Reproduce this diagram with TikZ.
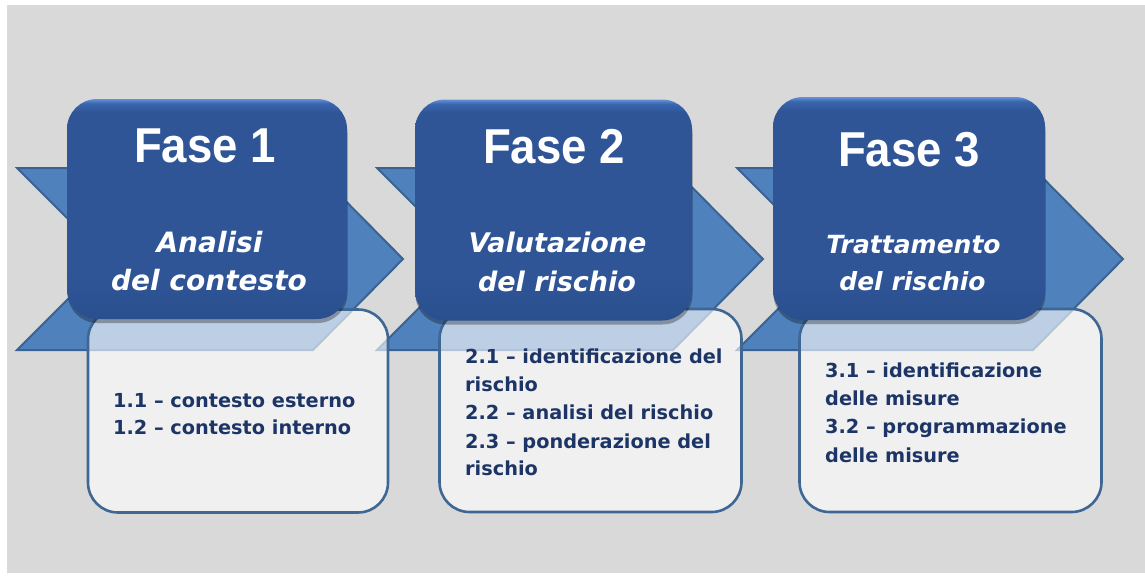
\documentclass[tikz,border=0pt]{standalone}
\usepackage{fontspec}
\setmainfont{DejaVu Sans}
\newfontfamily\titlefont{Liberation Sans}
\usetikzlibrary{shadows}

\definecolor{bg}{HTML}{D9D9D9}
\definecolor{chev}{HTML}{4F81BD}
\definecolor{chevline}{HTML}{3A6392}
\definecolor{dbox}{HTML}{2F5597}
\definecolor{dbot}{HTML}{2B4F8E}
\definecolor{dboxtop}{HTML}{6690D8}
\definecolor{dboxmid}{HTML}{3A66AE}
\definecolor{lline}{HTML}{3F6794}
\definecolor{ltext}{HTML}{1C3566}

\pgfdeclareverticalshading{darkshade}{100bp}{color(0bp)=(dbot);color(25bp)=(dbot);color(35bp)=(dbox);color(72bp)=(dbox);color(74bp)=(dboxmid);color(75bp)=(dboxtop);color(100bp)=(dboxtop)}

\newcommand{\tsq}[1]{\scalebox{0.93}[1]{#1}}

\tikzset{
  chevron/.style={fill=chev, draw=chevline, line width=2pt, line join=miter},
  lowbox/.style={rectangle, rounded corners=30pt, draw=lline, line width=2.6pt,
    fill=white, fill opacity=0.62, inner sep=0pt},
  darkbox/.style={rectangle, rounded corners=30pt, shading=darkshade, shade, draw=none, inner sep=0pt,
    drop shadow={shadow xshift=0.5pt, shadow yshift=-4pt, opacity=0.3, fill=black}},
  titletxt/.style={text=white, font=\titlefont\bfseries\fontsize{49}{49}\selectfont, anchor=base, inner sep=0pt},
  subtxt/.style={text=white, font=\bfseries\itshape\fontsize{#1}{#1}\selectfont, anchor=base, inner sep=0pt},
  itemtxt/.style={text=ltext, font=\bfseries\fontsize{19.3}{19.3}\selectfont, anchor=base west, inner sep=0pt},
}

\begin{document}
\begin{tikzpicture}[x=1pt, y=-1pt]
\useasboundingbox (0,0) rectangle (1145,576);
\fill[white] (0,0) rectangle (1145,576);
\fill[bg] (7,5) rectangle (1145,573);

% chevrons
\foreach \L in {17,377,737}
  \draw[chevron] (\L,168) -- ++(296,0) -- ++(90,91) -- ++(-90,91) -- ++(-296,0) -- ++(91,-91) -- cycle;

% lower boxes
\node[lowbox, minimum width=300pt, minimum height=203pt] (l1) at (238,411) {};
\node[lowbox, minimum width=302pt, minimum height=203pt] (l2) at (590.5,410.5) {};
\node[lowbox, minimum width=302pt, minimum height=203pt] (l3) at (950.5,410.5) {};

% dark boxes
\node[darkbox, minimum width=280pt, minimum height=220pt] (d1) at (207,209) {};
\node[darkbox, minimum width=277pt, minimum height=221pt] (d2) at (553.5,210) {};
\node[darkbox, minimum width=272pt, minimum height=223pt] (d3) at (909,208.5) {};

% titles
\node[titletxt] (t1) at (205,162) {\tsq{Fase 1}};
\node[titletxt] (t2) at (554,163) {\tsq{Fase 2}};
\node[titletxt] (t3) at (909,166) {\tsq{Fase 3}};

% subtitles
\node[subtxt=28] (s1a) at (209.5,252) {Analisi};
\node[subtxt=28] (s1b) at (209,290) {del contesto};
\node[subtxt=27] (s2a) at (557.5,252) {Valutazione};
\node[subtxt=27] (s2b) at (557,291) {del rischio};
\node[subtxt=25] (s3a) at (913.5,253) {Trattamento};
\node[subtxt=25] (s3b) at (912.5,290) {del rischio};

% items
\node[itemtxt] (i11) at (113,407) {1.1 – contesto esterno};
\node[itemtxt] (i12) at (113,434) {1.2 – contesto interno};

\node[itemtxt] (i21) at (465,363) {2.1 – identificazione del};
\node[itemtxt] (i22) at (465,391) {rischio};
\node[itemtxt] (i23) at (465,419) {2.2 – analisi del rischio};
\node[itemtxt] (i24) at (465,448) {2.3 – ponderazione del};
\node[itemtxt] (i25) at (465,475) {rischio};

\node[itemtxt] (i31) at (825,377) {3.1 – identificazione};
\node[itemtxt] (i32) at (825,405) {delle misure};
\node[itemtxt] (i33) at (825,433) {3.2 – programmazione};
\node[itemtxt] (i34) at (825,462) {delle misure};
\end{tikzpicture}
\end{document}
